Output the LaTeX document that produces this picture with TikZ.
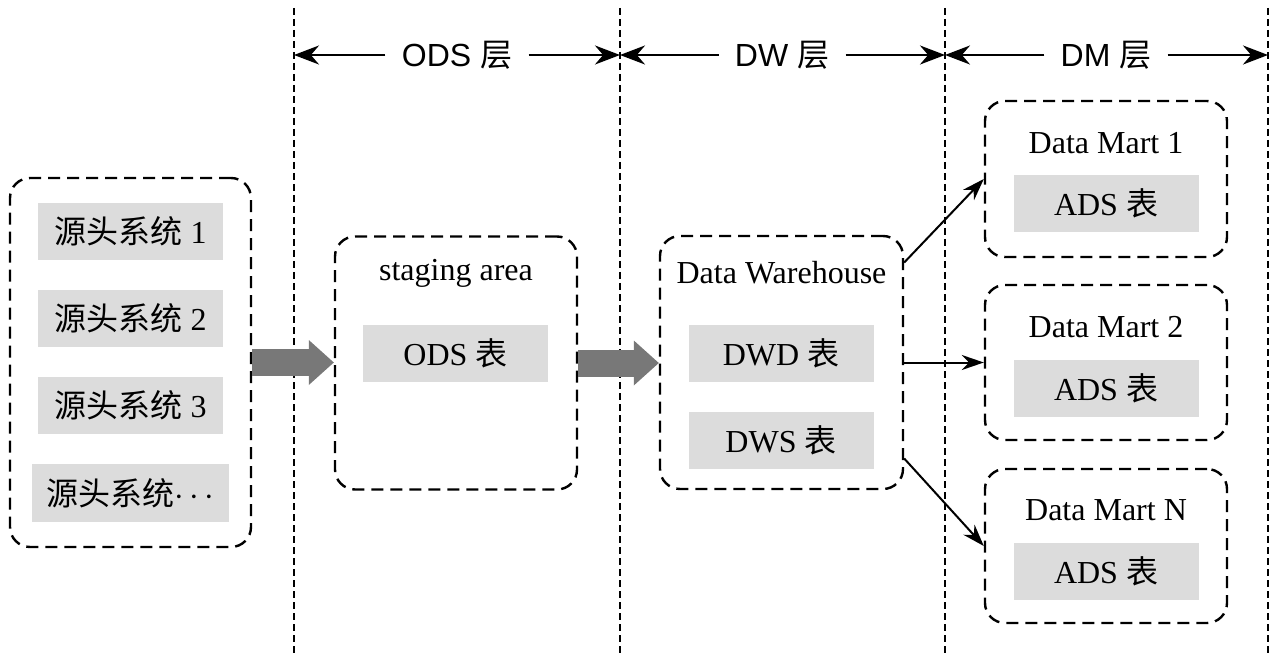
\documentclass[tikz,border=0pt]{standalone}
\usepackage{fontspec}
\setmainfont{Liberation Serif}
\setsansfont{Liberation Sans}
\newfontfamily\cjk{Noto Sans CJK SC}
\usetikzlibrary{arrows.meta, calc, positioning}
\definecolor{tblgray}{RGB}{220,220,220}
\definecolor{flowgray}{RGB}{120,120,120}
\tikzset{border/.style={line width=1.3pt, dash pattern=on 3.5pt off 2pt}}
\tikzset{span/.style={line width=1.2pt, -{Stealth[length=12.5pt, width=9.5pt]}}}
\tikzset{layername/.style={font=\sffamily\fontsize{16}{19}\selectfont, inner xsep=8pt}}
\tikzset{group/.style={draw, line width=1.2pt, dash pattern=on 6pt off 3.5pt, rounded corners=10pt}}
\tikzset{tbl/.style={fill=tblgray, minimum width=92.5pt, minimum height=28.5pt, inner sep=0pt}}
\tikzset{flow/.style={line width=13.5pt, draw=flowgray, -{Triangle[length=12.5pt, width=22.5pt, line width=0pt]}}}
\tikzset{next/.style={line width=1pt, -{Stealth[length=11pt, width=7.5pt]}}}

\begin{document}
\begin{tikzpicture}[x=0.5pt, y=-0.5pt, font=\fontsize{16}{19}\selectfont]
        \useasboundingbox (0,0) rectangle (1279,663);

        % layer borders
        \coordinate (b1t) at (294,8);  \coordinate (b1b) at (294,655);
        \coordinate (b2t) at (620,8);  \coordinate (b2b) at (620,655);
        \coordinate (b3t) at (945,8);  \coordinate (b3b) at (945,655);
        \coordinate (b4t) at (1268,8); \coordinate (b4b) at (1268,655);
        \draw[border] (b1t) -- (b1b);
        \draw[border] (b2t) -- (b2b);
        \draw[border] (b3t) -- (b3b);
        \draw[border] (b4t) -- (b4b);

        \node[layername] (ods) at (457,55) {ODS {\cjk 层}};
        \draw[span] (ods) -- (ods -| b1t);
        \draw[span] (ods) -- (ods -| b2t);
        \node[layername] (dwl) at (782,55) {DW {\cjk 层}};
        \draw[span] (dwl) -- (dwl -| b2t);
        \draw[span] (dwl) -- (dwl -| b3t);
        \node[layername] (dml) at (1106,55) {DM {\cjk 层}};
        \draw[span] (dml) -- (dml -| b3t);
        \draw[span] (dml) -- (dml -| b4t);

        % sources
        \node[group, minimum width=120.5pt, minimum height=184.5pt] (src) at (130.5,362.5) {};
        \node[tbl] (s1) at (130.5,231.5) {{\cjk 源头系统} 1};
        \node[tbl] (s2) [below of=s1, node distance=43.5pt] {{\cjk 源头系统} 2};
        \node[tbl] (s3) [below of=s2, node distance=43.5pt] {{\cjk 源头系统} 3};
        \node[tbl, minimum width=98.5pt, minimum height=29pt] (s4) at (130.5,493) {{\cjk 源头系统}$\cdots$};

        % staging area
        \node[group, minimum width=121pt, minimum height=126.5pt] (stg) at (456,363) {};
        \node (stgt) at (456,273) {staging area};
        \node[tbl] (odst) at (455.5,353) {ODS {\cjk 表}};

        % data warehouse
        \node[group, minimum width=121.5pt, minimum height=126.5pt] (dw) at (781.5,362.5) {};
        \node (dwt) at (781.5,273) {Data Warehouse};
        \node[tbl] (dwd) at (781,353.5) {DWD {\cjk 表}};
        \node[tbl] (dws) [below of=dwd, node distance=43.5pt] {DWS {\cjk 表}};

        \draw[flow] (src.east) -- (src.east -| stg.west);
        \draw[flow] (stg.east) -- (stg.east -| dw.west);

        % data marts
        \node[group, minimum width=121pt, minimum height=78pt] (dm1) at (1106,179) {};
        \node (dm1t) at (1106,143) {Data Mart 1};
        \node[tbl] (ads1) [below of=dm1t, node distance=30.25pt] {ADS {\cjk 表}};

        \node[group, minimum width=121pt, minimum height=77.5pt] (dm2) at (1106,362.5) {};
        \node (dm2t) at (1106,327) {Data Mart 2};
        \node[tbl] (ads2) [below of=dm2t, node distance=30.75pt] {ADS {\cjk 表}};

        \node[group, minimum width=121pt, minimum height=77pt] (dm3) at (1106,546) {};
        \node (dm3t) at (1106,510) {Data Mart N};
        \node[tbl] (ads3) [below of=dm3t, node distance=30.75pt] {ADS {\cjk 表}};

        \coordinate (dwo1) at ($(dw.east)+(0,-100)$);
        \coordinate (dwo3) at ($(dw.east)+(0,96)$);
        \draw[next] (dwo1) -- (dm1.west);
        \draw[next] (dw.east) -- (dm2.west);
        \draw[next] (dwo3) -- (dm3.west);

\end{tikzpicture}
\end{document}
